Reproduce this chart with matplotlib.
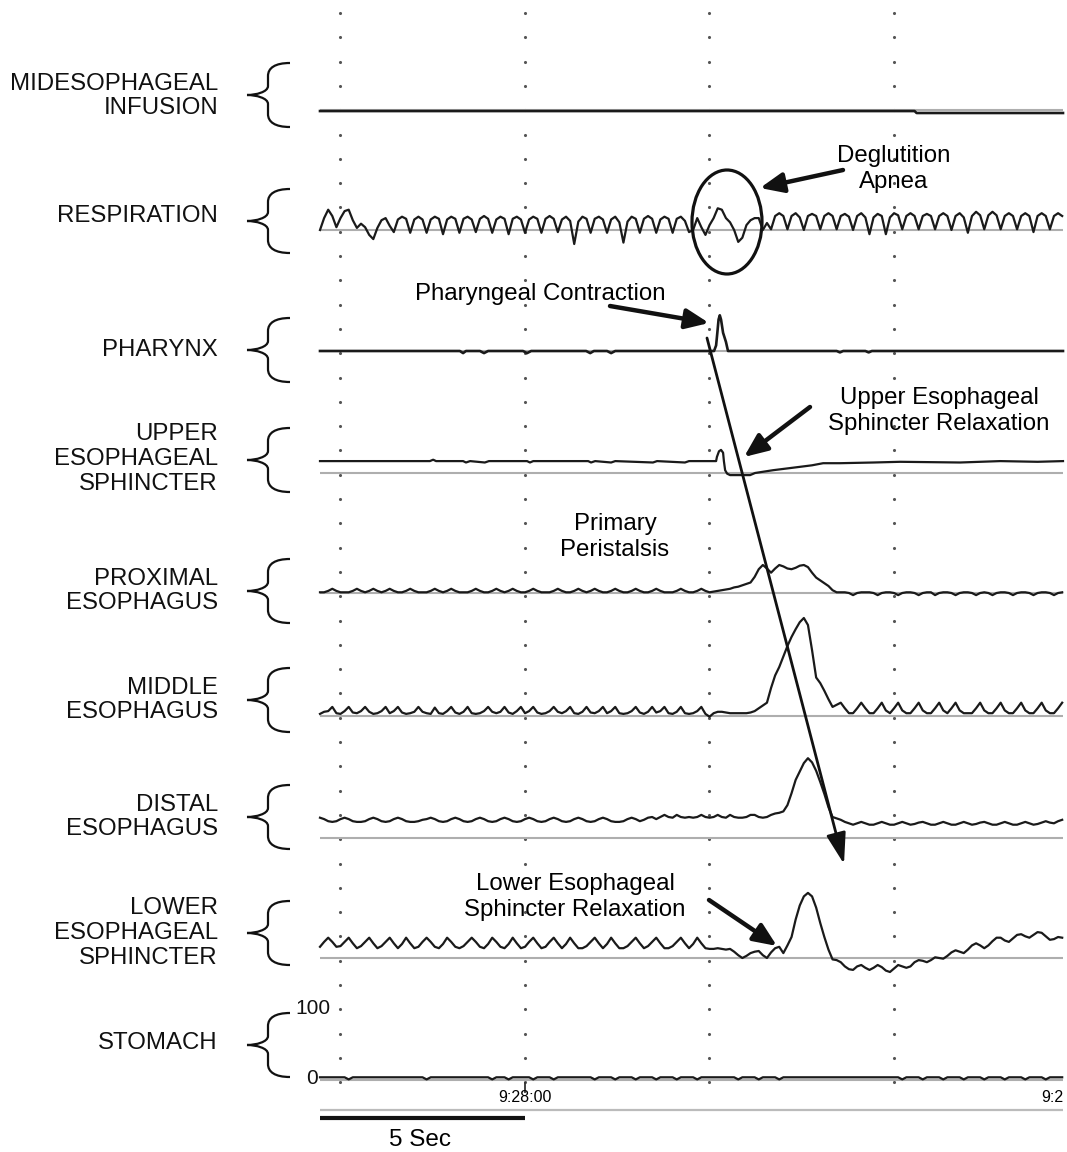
import numpy as np
import matplotlib
matplotlib.use("Agg")
import matplotlib.pyplot as plt
from matplotlib.patches import Ellipse, PathPatch, FancyArrowPatch
from matplotlib.path import Path

plt.rcParams['font.family'] = ['Liberation Sans', 'DejaVu Sans']

# ============================ DATA ============================
DT = 0.1
T_END = 18.12   # s, visible record length

channel_labels = ["MIDESOPHAGEAL\nINFUSION", "RESPIRATION", "PHARYNX",
                  "UPPER\nESOPHAGEAL\nSPHINCTER", "PROXIMAL\nESOPHAGUS",
                  "MIDDLE\nESOPHAGUS", "DISTAL\nESOPHAGUS",
                  "LOWER\nESOPHAGEAL\nSPHINCTER", "STOMACH"]

# pressures in mmHg relative to each channel's reference line
infusion_t = [0.0, 14.5, 14.55, 18.12]
infusion_v = [-1.5, -1.5, -4.3, -4.3]

respiration = [
    0, 17, 29, 20, 4, 17, 27, 29, 14, 3,
    9, 4, -7, -13, 3, 14, 17, 6, -3, 15,
    19, 16, -4, 15, 19, 15, -4, 15, 19, 16,
    -6, 15, 19, 16, -4, 16, 19, 15, -3, 16,
    20, 16, -4, 15, 19, 16, -6, 16, 19, 15,
    -4, 15, 19, 16, -4, 16, 20, 16, -3, 15,
    19, 13, -20, 12, 19, 16, -4, 16, 19, 15,
    -4, 15, 19, 11, -18, 12, 19, 16, -4, 16,
    20, 16, -4, 15, 19, 16, -4, 16, 19, 13,
    -3, 0, 17, 4, -7, 7, 17, 31, 29, 17,
    11, 0, -17, -11, 7, 14, 17, 17, 0, 10,
    1, 20, 24, 20, 1, 20, 24, 18, 0, 20,
    23, 20, 1, 20, 24, 20, 1, 20, 23, 19,
    0, 20, 24, 18, -6, 18, 23, 20, -6, 18,
    24, 21, 1, 20, 24, 20, 1, 20, 23, 20,
    1, 20, 24, 20, 0, 20, 24, 18, -4, 20,
    26, 21, 1, 21, 26, 21, 1, 20, 24, 20,
    1, 20, 24, 20, -3, 20, 24, 20, 1, 20,
    24, 20]

pharynx_t = [0, 3.41, 3.49, 3.56, 3.90, 4.0, 4.10, 4.95, 5.05, 5.15,
             6.49, 6.59, 6.68, 7.0, 7.10, 7.20, 9.61, 9.66, 9.69, 9.72,
             9.75, 9.78, 9.83, 9.90, 9.95, 12.6, 12.68, 12.76, 13.3, 13.38,
             13.46, 18.12]
pharynx_v = [0, 0, -3, 0, 0, -3, 0, 0, -3, 0,
             0, -3, 0, 0, -3, 0, 0, 8, 26, 45,
             51, 45, 26, 13, 0, 0, -2, 0, 0, -2,
             0, 0]

ues_t = [0, 2.68, 2.76, 2.83, 3.49, 3.56, 3.66, 4.02, 4.12, 5.05,
         5.12, 5.20, 6.54, 6.61, 6.71, 7.10, 7.20, 8.12, 8.22, 8.90,
         9.00, 9.63, 9.66, 9.68, 9.73, 9.78, 9.83, 9.85, 9.88, 9.93,
         10.0, 10.49, 10.61, 11.05, 11.46, 12.0, 12.27, 12.68, 13.5, 14.15,
         15.61, 16.59, 17.5, 18.12]
ues_v = [17, 17, 19, 17, 17, 15, 17, 15, 17, 17,
         15, 17, 17, 15, 17, 15, 17, 15, 17, 15,
         17, 17, 17, 23, 31, 33, 29, 17, 4, -1,
         -3, -3, 0, 4, 7, 11, 14, 14, 15, 16,
         15, 17, 16, 17]

proximal = [
    1, 1, 3, 6, 3, 1, 1, 1, 3, 6,
    3, 1, 3, 6, 3, 1, 3, 6, 3, 1,
    1, 3, 6, 3, 1, 1, 1, 3, 6, 3,
    1, 3, 6, 3, 1, 1, 1, 3, 6, 3,
    1, 1, 3, 6, 3, 1, 3, 6, 3, 1,
    1, 3, 6, 3, 1, 1, 1, 3, 6, 3,
    1, 1, 3, 6, 3, 1, 3, 6, 3, 1,
    1, 3, 6, 3, 1, 1, 3, 6, 3, 1,
    1, 3, 6, 3, 1, 1, 1, 3, 6, 3,
    1, 1, 3, 6, 3, 1, 2, 3, 4, 5,
    6, 8, 9, 11, 13, 15, 23, 34, 40, 35,
    29, 35, 40, 38, 35, 34, 36, 39, 40, 37,
    29, 22, 18, 14, 10, 4, 1, 1, 1, 0,
    -3, 0, 1, 1, 1, 0, -3, 0, 1, 1,
    0, -3, 0, 1, 1, 0, -3, 0, 1, 1,
    -3, 0, 1, 1, 0, -3, 0, 1, 1, 0,
    -3, 0, 1, 0, -3, 0, 1, 1, 0, -3,
    0, 1, 1, 0, -3, 0, 1, 1, 0, -3,
    0, 1]

middle = [
    3, 6, 7, 13, 4, 3, 7, 13, 5, 4,
    7, 13, 6, 3, 4, 7, 13, 4, 7, 13,
    5, 3, 4, 6, 13, 6, 4, 3, 12, 4,
    3, 7, 13, 5, 3, 6, 13, 4, 3, 4,
    7, 13, 6, 4, 6, 13, 5, 3, 7, 13,
    4, 7, 13, 5, 3, 4, 7, 13, 6, 4,
    7, 13, 4, 3, 6, 13, 5, 4, 7, 13,
    4, 7, 13, 4, 3, 4, 7, 13, 5, 3,
    6, 13, 5, 7, 13, 4, 3, 6, 13, 4,
    3, 4, 7, 13, 3, -1, 4, 6, 6, 5,
    4, 4, 4, 4, 4, 5, 7, 11, 15, 19,
    40, 58, 70, 85, 100, 113, 124, 134, 140, 130,
    94, 55, 47, 36, 24, 13, 16, 19, 11, 4,
    4, 11, 19, 11, 4, 4, 11, 19, 8, 4,
    11, 19, 8, 4, 4, 11, 19, 8, 4, 4,
    11, 19, 8, 4, 11, 19, 8, 4, 4, 4,
    11, 19, 8, 4, 4, 11, 19, 8, 4, 4,
    11, 19, 8, 4, 4, 11, 19, 8, 4, 4,
    11, 19]

distal = [
    29, 27, 24, 23, 24, 27, 29, 27, 24, 23,
    23, 24, 27, 29, 27, 24, 23, 24, 27, 29,
    27, 24, 23, 23, 24, 26, 27, 29, 27, 24,
    23, 24, 27, 29, 27, 24, 23, 24, 27, 29,
    27, 24, 23, 24, 27, 29, 27, 24, 23, 24,
    27, 29, 27, 24, 23, 24, 27, 29, 27, 24,
    23, 24, 27, 29, 27, 24, 23, 24, 27, 29,
    27, 24, 23, 23, 24, 27, 29, 27, 24, 26,
    29, 30, 27, 30, 33, 30, 29, 33, 30, 29,
    30, 29, 30, 33, 30, 29, 30, 33, 30, 29,
    33, 30, 29, 29, 30, 33, 33, 30, 29, 30,
    33, 35, 36, 38, 47, 64, 83, 95, 107, 114,
    108, 96, 80, 63, 44, 30, 28, 26, 23, 21,
    19, 21, 23, 21, 19, 19, 21, 23, 21, 19,
    19, 21, 23, 21, 19, 20, 22, 23, 21, 19,
    19, 21, 23, 21, 19, 19, 21, 23, 21, 19,
    20, 22, 23, 21, 19, 19, 21, 23, 21, 19,
    19, 21, 23, 21, 19, 20, 22, 24, 22, 21,
    24, 26]

les = [
    16, 23, 29, 23, 16, 17, 23, 29, 21, 14,
    17, 23, 29, 21, 14, 17, 23, 29, 21, 14,
    20, 29, 21, 14, 16, 23, 29, 23, 16, 14,
    20, 29, 23, 16, 14, 17, 23, 29, 23, 16,
    14, 20, 29, 23, 16, 14, 20, 29, 21, 14,
    16, 23, 29, 21, 14, 16, 23, 29, 21, 14,
    20, 29, 21, 14, 14, 17, 23, 29, 21, 14,
    20, 29, 21, 14, 14, 17, 23, 29, 21, 14,
    17, 23, 29, 21, 14, 14, 17, 23, 29, 21,
    14, 20, 29, 21, 14, 13, 13, 14, 13, 12,
    13, 9, 4, 0, 3, 7, 9, 10, 4, 0,
    8, 14, 16, 7, 18, 30, 55, 75, 88, 93,
    88, 72, 50, 30, 12, -2, -3, -6, -12, -16,
    -17, -12, -10, -14, -17, -14, -10, -13, -18, -20,
    -15, -10, -12, -14, -12, -6, -3, -4, -6, -3,
    1, 0, -1, 3, 8, 11, 9, 7, 12, 18,
    21, 18, 14, 18, 24, 29, 29, 25, 23, 28,
    33, 34, 31, 29, 33, 37, 36, 31, 26, 27,
    30, 29]

stomach = [
    1, 1, 1, 1, 1, 1, 1, -2, 1, 1,
    1, 1, 1, 1, 1, 1, 1, 1, 1, 1,
    1, 1, 1, 1, 1, 1, -2, 1, 1, 1,
    1, 1, 1, 1, 1, 1, 1, 1, 1, 1,
    1, 1, -2, 1, 1, 1, -2, 1, 1, 1,
    1, 1, -2, 1, 1, 1, 1, -2, 1, 1,
    1, 1, 1, 1, 1, 1, 1, -2, 1, 1,
    1, 1, -2, 1, 1, 1, 1, -2, 1, 1,
    1, 1, -2, 1, 1, 1, 1, -2, 1, 1,
    1, 1, -2, 1, 1, 1, 1, 1, 1, 1,
    1, 1, -2, 1, 1, 1, 1, -2, 1, 1,
    1, 1, -2, 1, 1, 1, 1, 1, 1, 1,
    1, 1, 1, 1, 1, 1, 1, 1, 1, 1,
    1, 1, 1, 1, 1, 1, 1, 1, 1, 1,
    1, 1, -2, 1, 1, 1, 1, -2, 1, 1,
    1, 1, -2, 1, 1, 1, 1, -2, 1, 1,
    1, 1, -2, 1, 1, 1, 1, -2, 1, 1,
    1, 1, -2, 1, 1, 1, 1, -2, 1, 1,
    1, 1]

reference_level = [0, 0, 0, 0, 0, 0, 0, 0, -3]   # gray reference line (mmHg)
stomach_ticks = [0, 100]
grid_times = [0.49, 5.0, 9.49, 14.0]
time_tick = 5.0
time_tick_label = "9:28:00"
time_end_label = "9:2"
scale_bar_s = 5.0
scale_bar_label = "5 Sec"

# ============================ LAYOUT ============================
W, H = 1067, 1152
X0, X1 = 320, 1063                 # plot area in pixels
PX_PER_MMHG = 0.7
zero_px = [110, 230, 351, 473, 593, 716, 838, 958, 1078]   # value 0 row per channel
brace_center = [95, 221, 350, 460, 591, 700, 817, 933, 1045]
label_center = [96, 216, 350, 459, 591, 700, 817, 933, 1043]
BAND_UP, BAND_DN = 150, 30
LFS = 17.3   # channel label font size
AFS = 17.3   # annotation font size
LLS = 1.15   # label line spacing
ALS = 1.23   # annotation line spacing

TRACE = '#1a1a1a'
REF = '#aeaeae'

fig = plt.figure(figsize=(W / 100, H / 100), dpi=100)

def uniform_t(v):
    return np.arange(len(v)) * DT

series = [
    (infusion_t, infusion_v),
    (uniform_t(respiration), respiration),
    (pharynx_t, pharynx_v),
    (ues_t, ues_v),
    (uniform_t(proximal), proximal),
    (uniform_t(middle), middle),
    (uniform_t(distal), distal),
    (uniform_t(les), les),
    (uniform_t(stomach), stomach),
]

chan_axes = []
for i, (tt, vv) in enumerate(series):
    z = zero_px[i]
    ax = fig.add_axes([X0 / W, 1 - (z + BAND_DN) / H, (X1 - X0) / W, (BAND_UP + BAND_DN) / H], zorder=2)
    ax.set_xlim(0, T_END)
    ax.set_ylim(-BAND_DN / PX_PER_MMHG, BAND_UP / PX_PER_MMHG)
    ax.axis('off')
    ax.patch.set_alpha(0)
    ax.axhline(reference_level[i], color=REF, lw=1.5, zorder=1)
    lw = 1.9 if i in (0, 2) else 1.6
    ax.plot(tt, vv, color=TRACE, lw=lw, zorder=2, clip_on=False, solid_joinstyle='round')
    chan_axes.append(ax)

# stomach scale
sax = chan_axes[-1]
for val in stomach_ticks:
    sax.text(-0.05 if val == 0 else 0.25, val, str(val), ha='right', va='center',
             fontsize=15, color='#111111')

# dot grid + time axis (x in seconds, y in pixel rows)
gax = fig.add_axes([X0 / W, 0, (X1 - X0) / W, 1], zorder=1)
gax.set_xlim(0, T_END)
gax.set_ylim(H, 0)
gax.axis('off')
gax.patch.set_alpha(0)
rows = 13 + 24.3 * np.arange(45)
gx, gy = np.meshgrid(grid_times, rows)
gax.scatter(gx.ravel(), gy.ravel(), s=5, color='#555555', linewidths=0, zorder=1)
gax.plot([time_tick, time_tick], [1083, 1092], color='#333333', lw=1.3)
gax.text(time_tick, 1097, time_tick_label, ha='center', va='center', fontsize=11.5)
gax.text(T_END, 1097, time_end_label, ha='right', va='center', fontsize=11.5)
gax.plot([0, T_END], [1110, 1110], color='#bbbbbb', lw=1.6, solid_capstyle='butt')
gax.plot([0, scale_bar_s], [1118, 1118], color='#111111', lw=3.0, solid_capstyle='butt')
gax.text(scale_bar_s / 2 * 0.98, 1140, scale_bar_label, ha='center', va='center', fontsize=17.5)

# overlay in pixel coordinates for labels, braces and annotations
ov = fig.add_axes([0, 0, 1, 1], zorder=5)
ov.set_xlim(0, W)
ov.set_ylim(H, 0)
ov.axis('off')
ov.patch.set_alpha(0)

for lab, yc in zip(channel_labels, label_center):
    ov.text(218, yc, lab, ha='right', va='center', fontsize=LFS, linespacing=LLS, color='#111111')

def brace(yc, h=32, xt=247, xm=268, xe=290):
    verts = [(xe, yc - h), (xm + 7, yc - h), (xm, yc - h + 5), (xm, yc - h + 13),
             (xm, yc - 9),
             (xm, yc - 3), (xt + 9, yc), (xt, yc),
             (xt + 9, yc), (xm, yc + 3), (xm, yc + 9),
             (xm, yc + h - 13),
             (xm, yc + h - 5), (xm + 7, yc + h), (xe, yc + h)]
    codes = [Path.MOVETO, Path.CURVE4, Path.CURVE4, Path.CURVE4,
             Path.LINETO,
             Path.CURVE4, Path.CURVE4, Path.CURVE4,
             Path.CURVE4, Path.CURVE4, Path.CURVE4,
             Path.LINETO,
             Path.CURVE4, Path.CURVE4, Path.CURVE4]
    ov.add_patch(PathPatch(Path(verts, codes), fill=False, lw=1.6, edgecolor='#111111'))

for yc in brace_center:
    brace(yc)

def arrow(tail, head, lw=3.2, hl=0.7, hw=0.3):
    ov.add_patch(FancyArrowPatch(tail, head,
                                 arrowstyle=f'-|>,head_length={hl},head_width={hw}',
                                 mutation_scale=20, lw=lw, color='#111111',
                                 shrinkA=0, shrinkB=0))

ov.add_patch(Ellipse((727, 222), 70, 104, fill=False, lw=2.3, edgecolor='#111111'))
ov.text(894, 169, "Deglutition\nApnea", ha='center', va='center', fontsize=AFS, linespacing=ALS)
arrow((843, 170), (760, 188))
ov.text(540, 294, "Pharyngeal Contraction", ha='center', va='center', fontsize=AFS)
arrow((610, 306), (709, 323))
arrow((707, 338), (844, 864), lw=2.0, hl=0.95, hw=0.3)
ov.text(939, 411, "Upper Esophageal\nSphincter Relaxation", ha='center', va='center', fontsize=AFS, linespacing=ALS)
arrow((810, 407), (744, 457))
ov.text(615, 537, "Primary\nPeristalsis", ha='center', va='center', fontsize=AFS, linespacing=ALS)
ov.text(575, 897, "Lower Esophageal\nSphincter Relaxation", ha='center', va='center', fontsize=AFS, linespacing=ALS)
arrow((709, 900), (777, 946))

fig.savefig("out.png", dpi=100)
